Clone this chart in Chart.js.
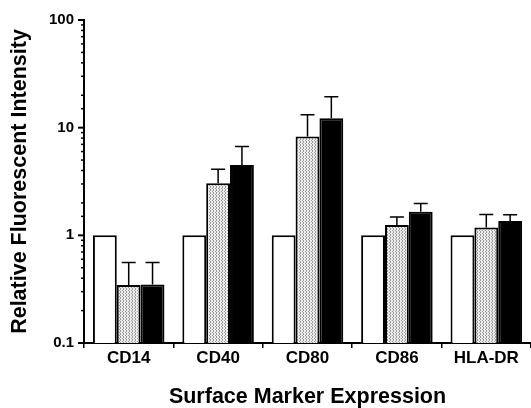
<!DOCTYPE html>
<html>
<head>
<meta charset="utf-8">
<script src="https://cdn.jsdelivr.net/npm/chart.js@4/dist/chart.umd.min.js"></script>
<style>
  html, body { margin: 0; padding: 0; background: #fff; }
  canvas { display: block; }
</style>
</head>
<body>
<canvas id="markerChart" width="531" height="408"></canvas>
<script>
// Surface markers and relative fluorescent intensity (log scale)
const markers = ['CD14', 'CD40', 'CD80', 'CD86', 'HLA-DR'];
const controlValues = [1, 1, 1, 1, 1];
const dottedValues = [0.345, 3.05, 8.3, 1.25, 1.18];
const dottedErrTop = [0.56, 4.1, 13.2, 1.48, 1.56];
const blackValues = [0.35, 4.5, 12.2, 1.66, 1.36];
const blackErrTop = [0.56, 6.7, 19.4, 1.98, 1.55];
const majorTicks = [0.1, 1, 10, 100];

const FONT = '"Liberation Sans", Arial, Helvetica, sans-serif';

// stippled fill like the printed figure
function makeStipple() {
    const c = document.createElement('canvas');
    c.width = 3; c.height = 3;
    const g = c.getContext('2d');
    g.fillStyle = '#ececec';
    g.fillRect(0, 0, 3, 3);
    g.fillStyle = '#9a9a9a';
    g.fillRect(0, 0, 1, 1);
    g.fillRect(0, 1, 1, 1);
    g.fillRect(2, 2, 1, 1);
    return g.createPattern(c, 'repeat');
}

// upward error bars with caps
const errorBars = {
    id: 'errorBars',
    afterDatasetsDraw(chart) {
        const ctx = chart.ctx;
        const yScale = chart.scales.y;
        const tops = { 1: dottedErrTop, 2: blackErrTop };
        ctx.save();
        ctx.strokeStyle = '#000';
        ctx.lineWidth = 1.5;
        Object.keys(tops).forEach(idx => {
            const meta = chart.getDatasetMeta(idx);
            meta.data.forEach((bar, i) => {
                const yTop = yScale.getPixelForValue(tops[idx][i]);
                ctx.beginPath();
                ctx.moveTo(bar.x, bar.y);
                ctx.lineTo(bar.x, yTop);
                ctx.moveTo(bar.x - 7, yTop);
                ctx.lineTo(bar.x + 7, yTop);
                ctx.stroke();
            });
        });
        ctx.restore();
    }
};

// y axis tick marks: long at decades, short in between
const logTicks = {
    id: 'logTicks',
    afterDraw(chart) {
        const ctx = chart.ctx;
        const yScale = chart.scales.y;
        const x = chart.chartArea.left;
        ctx.save();
        ctx.strokeStyle = '#000';
        yScale.ticks.forEach(t => {
            const y = yScale.getPixelForValue(t.value);
            const major = majorTicks.some(v => Math.abs(v - t.value) < 1e-9);
            ctx.lineWidth = major ? 2 : 1.5;
            ctx.beginPath();
            ctx.moveTo(x - (major ? 6 : 3), y);
            ctx.lineTo(x, y);
            ctx.stroke();
        });
        ctx.restore();
    }
};

new Chart(document.getElementById('markerChart').getContext('2d'), {
    type: 'bar',
    data: {
        labels: markers,
        datasets: [
            { label: 'Control', data: controlValues, backgroundColor: '#fff', borderColor: '#000', borderWidth: 2 },
            { label: 'Treated A', data: dottedValues, backgroundColor: makeStipple(), borderColor: '#000', borderWidth: 2 },
            { label: 'Treated B', data: blackValues, backgroundColor: '#000', borderColor: '#000', borderWidth: 2 }
        ]
    },
    options: {
        responsive: false,
        animation: false,
        layout: { padding: { top: 20, right: 0, bottom: 0, left: 0 } },
        datasets: { bar: { categoryPercentage: 0.8, barPercentage: 1.0 } },
        plugins: { legend: { display: false }, tooltip: { enabled: false } },
        scales: {
            x: {
                grid: { display: true, drawOnChartArea: false, offset: true, color: '#000', tickLength: 5, lineWidth: 1.5 },
                border: { color: '#000', width: 2 },
                ticks: { color: '#000', font: { family: FONT, size: 17, weight: 'bold' }, padding: 0 },
                title: { display: true, text: 'Surface Marker Expression', color: '#000', font: { family: FONT, size: 21.5, weight: 'bold', lineHeight: 1.05 }, padding: { top: 0, bottom: 0 } },
                afterFit: scale => { scale.height = 65; }
            },
            y: {
                type: 'logarithmic',
                min: 0.1,
                max: 100,
                grid: { display: false, drawTicks: false },
                border: { color: '#000', width: 2 },
                ticks: {
                    autoSkip: false,
                    color: '#000',
                    padding: 10,
                    font: { family: FONT, size: 15, weight: 'bold' },
                    callback: v => majorTicks.some(m => Math.abs(m - v) < 1e-9) ? String(v) : ''
                },
                title: { display: true, text: 'Relative Fluorescent Intensity', color: '#000', font: { family: FONT, size: 21.5, weight: 'bold' }, padding: { top: 7, bottom: 0 } },
                afterFit: scale => { scale.width = 84; }
            }
        }
    },
    plugins: [errorBars, logTicks]
});
</script>
</body>
</html>
